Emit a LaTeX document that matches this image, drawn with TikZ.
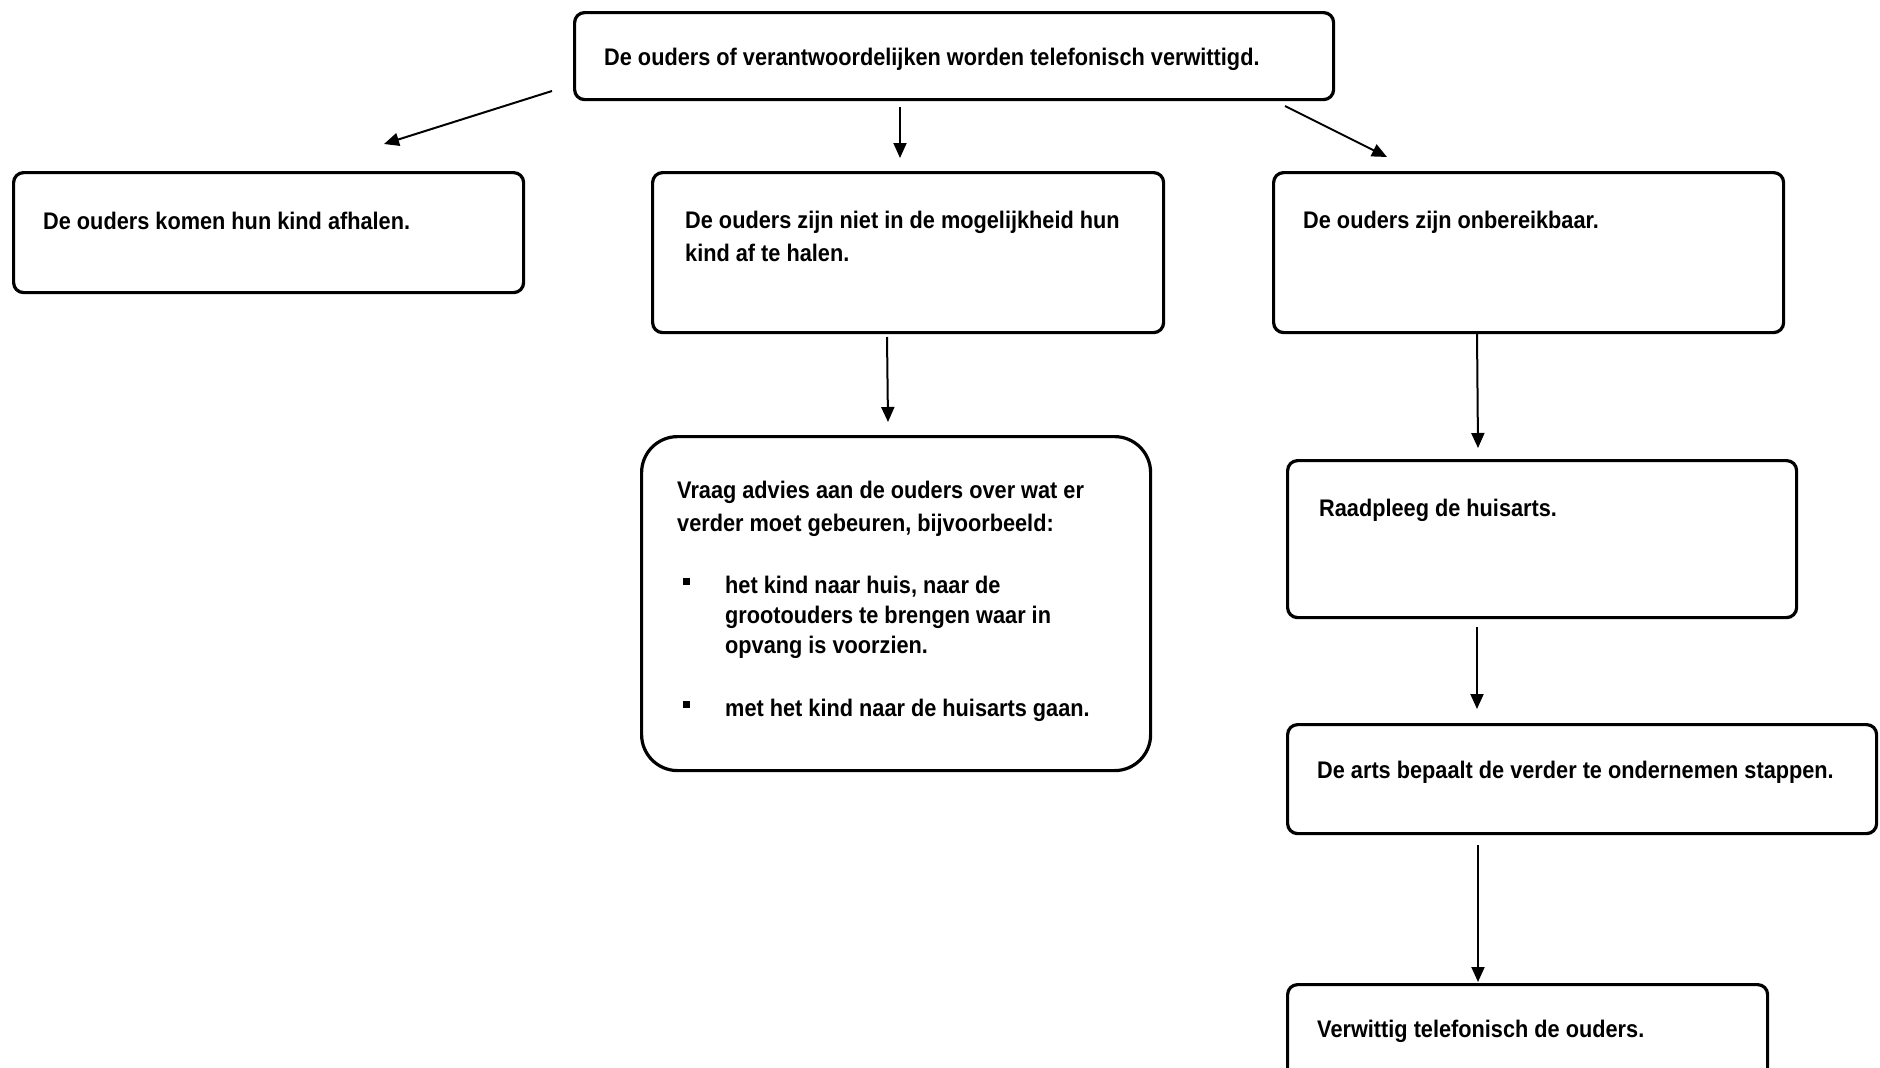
\documentclass[tikz,border=0pt]{standalone}
\usepackage{fontspec}
\setmainfont{Liberation Sans}[FakeStretch=0.905]
\usetikzlibrary{arrows.meta}
\begin{document}
\begin{tikzpicture}[x=1pt,y=-1pt,
  box/.style={draw, line width=3.2pt, rounded corners=10pt, anchor=north west, inner sep=0pt},
  txt/.style={anchor=base west, inner sep=0pt, font=\fontsize{24}{30}\selectfont\bfseries},
  arr/.style={line width=2pt, -{Triangle[width=13pt,length=15pt]}}]
\useasboundingbox (0,0) rectangle (1880,1068);
\clip (0,0) rectangle (1880,1068);
\fill[white] (0,0) rectangle (1880,1068);

% boxes
\node[box, minimum width=759pt, minimum height=87pt] (top) at (573,11) {};
\node[box, minimum width=510pt, minimum height=120pt] (left) at (12,171) {};
\node[box, minimum width=511pt, minimum height=160pt] (mid) at (651,171) {};
\node[box, minimum width=510pt, minimum height=160pt] (right) at (1272,171) {};
\node[box, rounded corners=36pt, minimum width=509pt, minimum height=334pt] (advies) at (640,435) {};
\node[box, minimum width=509pt, minimum height=157pt] (raad) at (1286,459) {};
\node[box, minimum width=589pt, minimum height=109pt] (arts) at (1286,723) {};
\node[box, minimum width=480pt, minimum height=120pt] (verw) at (1286,983) {};

% texts
\node[txt] (ttop) at (604,65) {De ouders of verantwoordelijken worden telefonisch verwittigd.};
\node[txt] (tleft) at (43,229) {De ouders komen hun kind afhalen.};
\node[txt] (tmid) at (685,228) {\parbox[t]{480pt}{\raggedright De ouders zijn niet in de mogelijkheid hun\\[3pt] kind af te halen.}};
\node[txt] (tright) at (1303,228) {De ouders zijn onbereikbaar.};
\node[txt] (tadvies) at (677,498) {\parbox[t]{470pt}{\raggedright
  Vraag advies aan de ouders over wat er\\[3pt]
  verder moet gebeuren, bijvoorbeeld:\\[32pt]
  \makebox[48pt][l]{\hspace*{6pt}\raisebox{8pt}{\rule{7pt}{7pt}}}het kind naar huis, naar de\\
  \hspace*{48pt}grootouders te brengen waar in\\
  \hspace*{48pt}opvang is voorzien.\\[33pt]
  \makebox[48pt][l]{\hspace*{6pt}\raisebox{8pt}{\rule{7pt}{7pt}}}met het kind naar de huisarts gaan.}};
\node[txt] (traad) at (1319,516) {Raadpleeg de huisarts.};
\node[txt] (tarts) at (1317,778) {De arts bepaalt de verder te ondernemen stappen.};
\node[txt] (tverw) at (1317,1037) {Verwittig telefonisch de ouders.};

% connector end points
\coordinate (a1s) at (552,91);  \coordinate (a1e) at (384,144);
\coordinate (a2s) at (900,107); \coordinate (a2e) at (900,158);
\coordinate (a3s) at (1285,106);\coordinate (a3e) at (1387,157);
\coordinate (a4s) at (887,337); \coordinate (a4e) at (888,422);
\coordinate (a5s) at (1477,332);\coordinate (a5e) at (1478,448);
\coordinate (a6s) at (1477,627);\coordinate (a6e) at (1477,709);
\coordinate (a7s) at (1478,845);\coordinate (a7e) at (1478,982);

\draw[arr] (a1s) -- (a1e);
\draw[arr] (a2s) -- (a2e);
\draw[arr] (a3s) -- (a3e);
\draw[arr] (a4s) -- (a4e);
\draw[arr] (a5s) -- (a5e);
\draw[arr] (a6s) -- (a6e);
\draw[arr] (a7s) -- (a7e);
\end{tikzpicture}
\end{document}
